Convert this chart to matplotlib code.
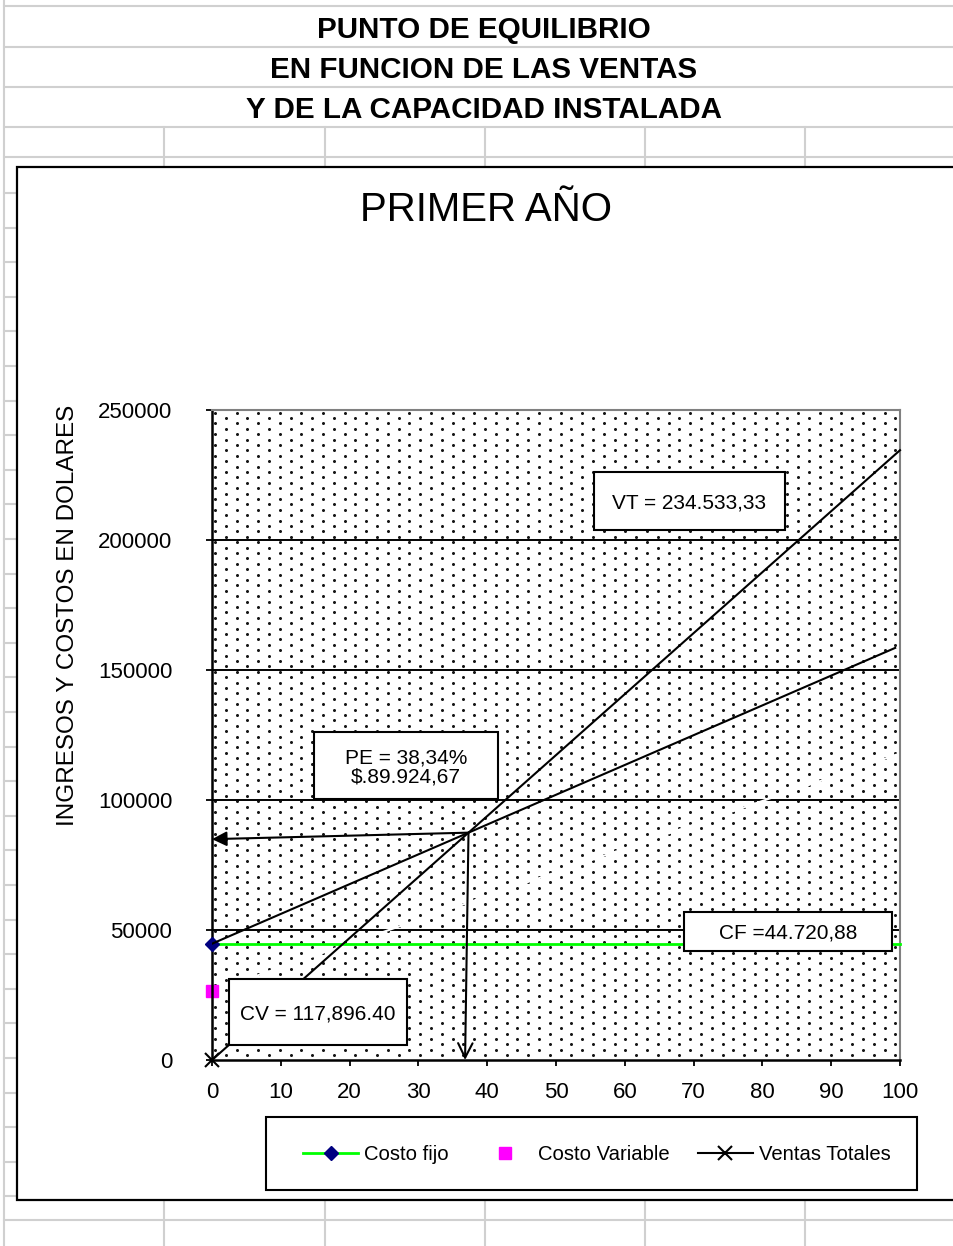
import matplotlib
matplotlib.use('Agg')
import matplotlib.pyplot as plt
import numpy as np
from matplotlib.patches import Rectangle
from matplotlib.lines import Line2D

plt.rcParams['font.family'] = ['Liberation Sans', 'DejaVu Sans']

# ---------------- data ----------------
title_lines = ['PUNTO DE EQUILIBRIO', 'EN FUNCION DE LAS VENTAS', 'Y DE LA CAPACIDAD INSTALADA']
chart_title = 'PRIMER AÑO'
y_label = 'INGRESOS Y COSTOS EN DOLARES'

capacidad = [0, 100]
costo_fijo = [44720.88, 44720.88]
costo_variable = [26500, 117896.40]
ventas_totales = [0, 234533.33]
costo_total_x = [0, 99.3]
costo_total = [44720.88, 158500]

x_ticks = [0, 10, 20, 30, 40, 50, 60, 70, 80, 90, 100]
y_ticks = [0, 50000, 100000, 150000, 200000, 250000]
legend_labels = ['Costo fijo', 'Costo Variable', 'Ventas Totales']

label_vt = 'VT = 234.533,33'
label_pe = 'PE = 38,34%\n$.89.924,67'
label_cf = 'CF =44.720,88'
label_cv = 'CV = 117,896.40'

# ---------------- figure ----------------
W, H = 954, 1246
fig = plt.figure(figsize=(W / 100, H / 100), dpi=100)
fig.patch.set_facecolor('white')

def fx(px):
    return px / W

def fy(py):
    return 1 - py / H

GRAY = '#D0D0D0'

def gline(x0, y0, x1, y1, color=GRAY, lw=1.5, z=-2):
    fig.add_artist(Line2D([fx(x0), fx(x1)], [fy(y0), fy(y1)], transform=fig.transFigure,
                          color=color, lw=lw, zorder=z))

# spreadsheet background
gline(4, 0, 4, H)
for ry in [6, 47, 87, 127, 157]:
    gline(4, ry, W, ry)
for cx in [164, 325, 485, 645, 805]:
    gline(cx, 127, cx, 168)
    gline(cx, 1200, cx, H)
gline(4, 1220, W, 1220)
for ry in np.arange(193, 1200, 34.6):
    gline(4, ry, 17, ry)

# chart frame
fig.add_artist(Rectangle((fx(17), fy(1200)), fx(960) - fx(17), fy(167) - fy(1200),
                         transform=fig.transFigure, fc='white', ec='black', lw=1.6, zorder=-1))

# titles
for i, t in enumerate(title_lines):
    fig.text(fx(484), fy(30 + 40 * i), t, ha='center', va='center', fontsize=21.3, weight='bold')
fig.text(fx(486), fy(210), chart_title, ha='center', va='center', fontsize=29)
fig.text(fx(68), fy(615), y_label, rotation=90, ha='center', va='center', fontsize=17.5)

# axes
AX_L, AX_R, AX_T, AX_B = 212, 900, 410, 1060
ax = fig.add_axes([fx(AX_L), fy(AX_B), (AX_R - AX_L) / W, (AX_B - AX_T) / H])
ax.set_xlim(0, 100)
ax.set_ylim(0, 250000)
ax.patch.set_facecolor('white')

# dotted pattern background
pw, ph = AX_R - AX_L, AX_B - AX_T
rows = np.arange(2.5, ph, 5.4)
dx_list, dy_list = [], []
for k, r in enumerate(rows):
    off = 3 if k % 2 == 0 else 3 + 10.8
    cols = np.arange(off, pw, 21.6)
    dx_list.extend(cols / pw)
    dy_list.extend([1 - r / ph] * len(cols))
ax.scatter(dx_list, dy_list, transform=ax.transAxes, s=4.8, c='#151515', linewidths=0, zorder=0.5)

for v in y_ticks[1:-1]:
    ax.axhline(v, color='black', lw=1.4, zorder=1)

for s in ['left', 'bottom']:
    ax.spines[s].set_color('black')
    ax.spines[s].set_linewidth(1.8)
for s in ['top', 'right']:
    ax.spines[s].set_color('#808080')
    ax.spines[s].set_linewidth(1.5)

ax.set_xticks(x_ticks)
ax.set_yticks(y_ticks)
ax.set_xticklabels([str(v) for v in x_ticks])
ax.set_yticklabels([str(v) for v in y_ticks])
ax.tick_params(axis='both', direction='out', length=4.5, width=1.3, labelsize=16, colors='black')
ax.tick_params(axis='y', pad=24)
ax.tick_params(axis='x', pad=11)

# series
h_cf, = ax.plot(capacidad, costo_fijo, color='#00FF00', lw=2, marker='D', markevery=[0],
                mfc='#000080', mec='#000080', ms=7, zorder=3, clip_on=False, label=legend_labels[0])
h_cv, = ax.plot(capacidad, costo_variable, color='white', lw=1.5, marker='s', markevery=[0],
                mfc='#FF00FF', mec='#FF00FF', ms=9, zorder=2, clip_on=False, label=legend_labels[1])
h_vt, = ax.plot(capacidad, ventas_totales, color='black', lw=1.5, marker='x', markevery=[0],
                ms=10, mew=1.5, zorder=4, clip_on=False, label=legend_labels[2])
ax.plot(costo_total_x, costo_total, color='black', lw=1.5, zorder=4)

# break-even point arrows
slope_vt = ventas_totales[1] / capacidad[1]
slope_ct = (costo_total[1] - costo_total[0]) / costo_total_x[1]
pe_x = costo_total[0] / (slope_vt - slope_ct)
pe_y = slope_vt * pe_x
ax.annotate('', xy=(0, pe_y - 2500), xytext=(pe_x, pe_y),
            arrowprops=dict(arrowstyle='-|>', color='black', lw=1.5, mutation_scale=22,
                            shrinkA=0, shrinkB=0), zorder=5, annotation_clip=False)
ax.annotate('', xy=(pe_x - 0.5, 0), xytext=(pe_x, pe_y),
            arrowprops=dict(arrowstyle='->', color='black', lw=1.5, mutation_scale=26,
                            shrinkA=0, shrinkB=0), zorder=5, annotation_clip=False)

# text boxes (pixel positions -> data coords)
def dxp(px):
    return (px - AX_L) / pw * 100

def dyp(py):
    return (AX_B - py) / ph * 250000

def box(x0, y0, x1, y1, text, ls=1.0):
    ax.add_patch(Rectangle((dxp(x0), dyp(y1)), dxp(x1) - dxp(x0), dyp(y0) - dyp(y1),
                           fc='white', ec='black', lw=1.5, zorder=6, clip_on=False))
    ax.text((dxp(x0) + dxp(x1)) / 2, (dyp(y0) + dyp(y1)) / 2 - 600, text, ha='center', va='center',
            fontsize=15, zorder=7, linespacing=ls)

box(594, 472, 785, 530, label_vt)
box(314, 732, 498, 799, label_pe, ls=1.0)
box(684, 912, 892, 951, label_cf)
box(229, 979, 407, 1045, label_cv)

# legend
fig.add_artist(Rectangle((fx(266), fy(1190)), fx(917) - fx(266), fy(1117) - fy(1190),
                         transform=fig.transFigure, fc='white', ec='black', lw=1.5, zorder=4))
leg = fig.legend([h_cf, h_cv, h_vt], legend_labels, loc='center',
                 bbox_to_anchor=(fx(597), fy(1155)), ncol=3, frameon=False, fontsize=14.6,
                 handlelength=2.7, handletextpad=0.3, columnspacing=1.4)
leg.set_zorder(6)

fig.savefig('out.png', dpi=100, facecolor='white')
